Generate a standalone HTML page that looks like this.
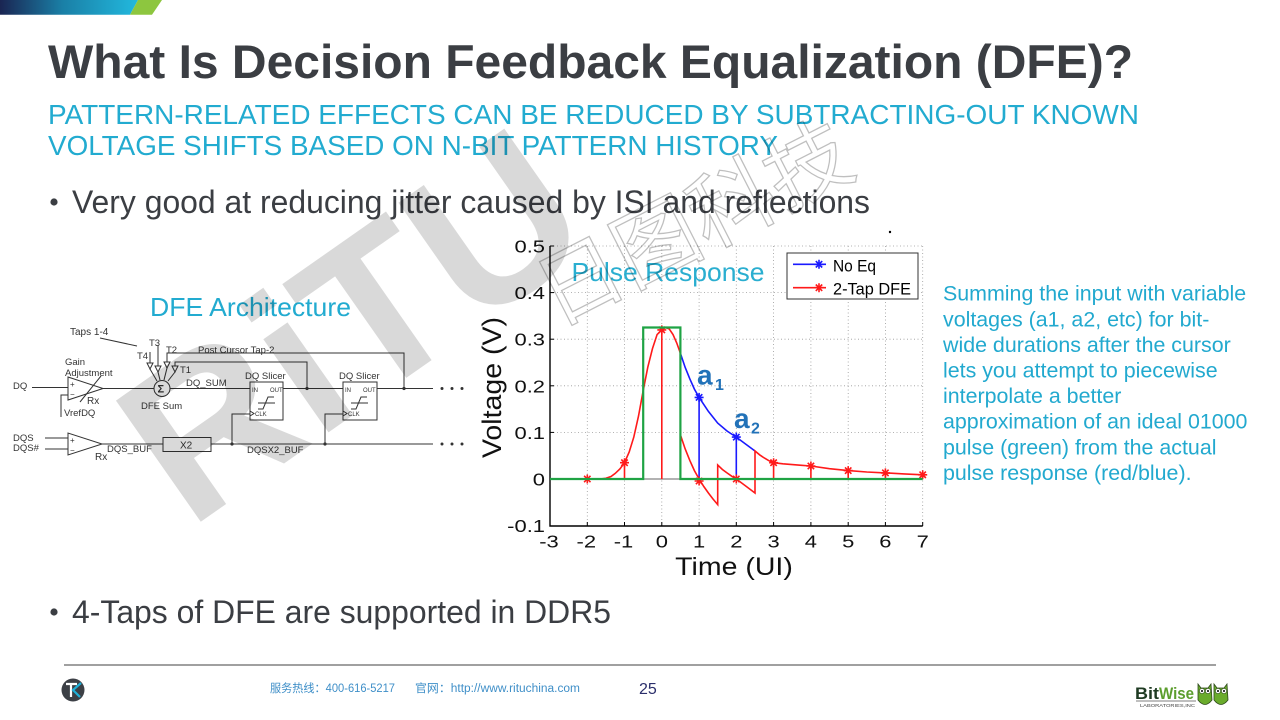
<!DOCTYPE html>
<html><head><meta charset="utf-8"><style>
html,body{margin:0;padding:0;background:#fff;}
svg{display:block;}
</style></head><body>
<svg width="1280" height="720" viewBox="0 0 1280 720" xmlns="http://www.w3.org/2000/svg" font-family="'Liberation Sans', Arial, sans-serif">
<defs>
<linearGradient id="bar" x1="0" y1="0" x2="1" y2="0">
<stop offset="0" stop-color="#1a2552"/>
<stop offset="0.45" stop-color="#1a7fa6"/>
<stop offset="1" stop-color="#22b9de"/>
</linearGradient>
</defs>
<rect width="1280" height="720" fill="#fff"/>
<!-- top banner -->
<polygon points="0,0 138,0 130,14.7 0,14.7" fill="url(#bar)"/>
<polygon points="138,0 162,0 152,14.7 130,14.7" fill="#8dc63f"/>

<!-- title -->
<text x="48" y="78" font-size="47" font-weight="bold" fill="#3b3e43" textLength="1085" lengthAdjust="spacingAndGlyphs">What Is Decision Feedback Equalization (DFE)?</text>
<text x="48" y="124" font-size="28" fill="#22abd0" textLength="1091" lengthAdjust="spacingAndGlyphs">PATTERN-RELATED EFFECTS CAN BE REDUCED BY SUBTRACTING-OUT KNOWN</text>
<text x="48" y="155" font-size="28" fill="#22abd0" textLength="730" lengthAdjust="spacingAndGlyphs">VOLTAGE SHIFTS BASED ON N-BIT PATTERN HISTORY</text>

<!-- bullets -->
<circle cx="54" cy="202" r="3.6" fill="#3b3e43"/>
<text x="72" y="213" font-size="32" fill="#3b3e43" textLength="798" lengthAdjust="spacingAndGlyphs">Very good at reducing jitter caused by ISI and reflections</text>
<circle cx="54" cy="612" r="3.6" fill="#3b3e43"/>
<text x="72" y="623" font-size="32" fill="#3b3e43" textLength="539" lengthAdjust="spacingAndGlyphs">4-Taps of DFE are supported in DDR5</text>

<!-- DFE Architecture -->
<text x="150" y="316" font-size="26" fill="#22abd0" textLength="201" lengthAdjust="spacingAndGlyphs">DFE Architecture</text>
<g stroke="#333" stroke-width="1" fill="none">
  <line x1="100" y1="338" x2="137" y2="346"/>
  <line x1="32" y1="387.5" x2="68" y2="387.5"/>
  <polygon points="68,377 68,400 103,388.5" fill="#fff"/>
  <line x1="80" y1="402" x2="101" y2="376"/>
  <polyline points="68,395 61,395 61,417"/>
  <line x1="103" y1="388.5" x2="154" y2="388.5"/>
  <circle cx="162" cy="388.5" r="8" fill="#fff"/>
  <line x1="170" y1="388.5" x2="250" y2="388.5"/>
  <!-- tap inputs -->
  <line x1="150" y1="352" x2="150" y2="363"/>
  <line x1="158" y1="345" x2="158" y2="366"/>
  <polyline points="167,362 167,353 404,353 404,388.5"/>
  <polyline points="175,366 175,362 307,362 307,388.5"/>
  <polygon points="147,363 153,363 150,369" fill="#fff"/>
  <polygon points="155,366 161,366 158,372" fill="#fff"/>
  <polygon points="164,362 170,362 167,368" fill="#fff"/>
  <polygon points="172,366 178,366 175,372" fill="#fff"/>
  <polyline points="150,369 157,381"/>
  <polyline points="158,372 160,380"/>
  <polyline points="167,368 164,380"/>
  <polyline points="175,372 168,381"/>
  <!-- slicer 1 -->
  <rect x="250" y="382" width="33" height="38" fill="#fff"/>
  <polyline points="258,409 263,409 268,397 274,397"/>
  <line x1="258" y1="403" x2="275" y2="403"/>
  <polyline points="250,411 254,413.5 250,416"/>
  <line x1="283" y1="388.5" x2="343" y2="388.5"/>
  <!-- slicer 2 -->
  <rect x="343" y="382" width="34" height="38" fill="#fff"/>
  <polyline points="351,409 356,409 361,397 367,397"/>
  <line x1="351" y1="403" x2="368" y2="403"/>
  <polyline points="343,411 347,413.5 343,416"/>
  <line x1="377" y1="388.5" x2="433" y2="388.5"/>
  <!-- DQS -->
  <line x1="45" y1="438" x2="68" y2="438"/>
  <line x1="45" y1="449" x2="68" y2="449"/>
  <polygon points="68,433 68,455 102,444" fill="#fff"/>
  <line x1="102" y1="444" x2="163" y2="444"/>
  <rect x="163" y="437.5" width="48" height="14" fill="#fff"/>
  <line x1="211" y1="444" x2="433" y2="444"/>
  <polyline points="232,444 232,414 250,414"/>
  <polyline points="325,444 325,414 343,414"/>
</g>
<g fill="#333">
  <circle cx="307" cy="388.5" r="1.6"/><circle cx="404" cy="388.5" r="1.6"/>
  <circle cx="232" cy="444" r="1.6"/><circle cx="325" cy="444" r="1.6"/>
  <circle cx="442" cy="388.5" r="1.5"/><circle cx="452" cy="388.5" r="1.5"/><circle cx="462" cy="388.5" r="1.5"/>
  <circle cx="442" cy="444" r="1.5"/><circle cx="452" cy="444" r="1.5"/><circle cx="462" cy="444" r="1.5"/>
</g>
<g font-size="9.5" fill="#333">
  <text x="70" y="335" font-size="10">Taps 1-4</text>
  <text x="149" y="346">T3</text>
  <text x="166" y="353">T2</text>
  <text x="137" y="359">T4</text>
  <text x="180" y="373">T1</text>
  <text x="198" y="353">Post Cursor Tap-2</text>
  <text x="65" y="365">Gain</text>
  <text x="65" y="376">Adjustment</text>
  <text x="13" y="389">DQ</text>
  <text x="70" y="387" font-size="8">+</text>
  <text x="70" y="397" font-size="8">−</text>
  <text x="87" y="404" font-size="10">Rx</text>
  <text x="64" y="416">VrefDQ</text>
  <text x="157.5" y="392.5" font-size="11" font-weight="bold">Σ</text>
  <text x="141" y="409">DFE Sum</text>
  <text x="186" y="386">DQ_SUM</text>
  <text x="245" y="379">DQ Slicer</text>
  <text x="339" y="379">DQ Slicer</text>
  <text x="252" y="392" font-size="6">IN</text>
  <text x="270" y="392" font-size="6">OUT</text>
  <text x="255" y="416" font-size="6">CLK</text>
  <text x="345" y="392" font-size="6">IN</text>
  <text x="363" y="392" font-size="6">OUT</text>
  <text x="348" y="416" font-size="6">CLK</text>
  <text x="13" y="441">DQS</text>
  <text x="13" y="451">DQS#</text>
  <text x="70" y="443" font-size="8">+</text>
  <text x="70" y="453" font-size="8">−</text>
  <text x="95" y="460" font-size="10">Rx</text>
  <text x="107" y="452">DQS_BUF</text>
  <text x="180" y="448.5" font-size="10">X2</text>
  <text x="247" y="453">DQSX2_BUF</text>
</g>

<!-- ===== Chart ===== -->
<!-- grid -->
<g stroke="#9a9a9a" stroke-width="0.8" stroke-dasharray="1,2.5" fill="none">
  <line x1="587.3" y1="246" x2="587.3" y2="526"/>
  <line x1="624.5" y1="246" x2="624.5" y2="526"/>
  <line x1="661.8" y1="246" x2="661.8" y2="526"/>
  <line x1="699.1" y1="246" x2="699.1" y2="526"/>
  <line x1="736.3" y1="246" x2="736.3" y2="526"/>
  <line x1="773.6" y1="246" x2="773.6" y2="526"/>
  <line x1="810.9" y1="246" x2="810.9" y2="526"/>
  <line x1="848.2" y1="246" x2="848.2" y2="526"/>
  <line x1="885.4" y1="246" x2="885.4" y2="526"/>
  <line x1="922.7" y1="246" x2="922.7" y2="526"/>
  <line x1="550" y1="246" x2="922.7" y2="246"/>
  <line x1="550" y1="292.6" x2="922.7" y2="292.6"/>
  <line x1="550" y1="339.2" x2="922.7" y2="339.2"/>
  <line x1="550" y1="385.8" x2="922.7" y2="385.8"/>
  <line x1="550" y1="432.4" x2="922.7" y2="432.4"/>
</g>
<!-- axes -->
<g stroke="#000" stroke-width="1.4" fill="none">
  <polyline points="550,246 550,526 922.7,526"/>
</g>
<g stroke="#000" stroke-width="1">
  <line x1="550" y1="292.6" x2="554" y2="292.6"/><line x1="550" y1="339.2" x2="554" y2="339.2"/>
  <line x1="550" y1="385.8" x2="554" y2="385.8"/><line x1="550" y1="432.4" x2="554" y2="432.4"/>
  <line x1="550" y1="479" x2="554" y2="479"/><line x1="550" y1="246" x2="554" y2="246"/>
  <line x1="587.3" y1="526" x2="587.3" y2="522"/><line x1="624.5" y1="526" x2="624.5" y2="522"/>
  <line x1="661.8" y1="526" x2="661.8" y2="522"/><line x1="699.1" y1="526" x2="699.1" y2="522"/>
  <line x1="736.3" y1="526" x2="736.3" y2="522"/><line x1="773.6" y1="526" x2="773.6" y2="522"/>
  <line x1="810.9" y1="526" x2="810.9" y2="522"/><line x1="848.2" y1="526" x2="848.2" y2="522"/>
  <line x1="885.4" y1="526" x2="885.4" y2="522"/><line x1="922.7" y1="526" x2="922.7" y2="522"/>
</g>
<!-- y tick labels -->
<g font-size="18" fill="#111" text-anchor="end">
  <text transform="translate(545,252.5) scale(1.22,1)">0.5</text>
  <text transform="translate(545,299.1) scale(1.22,1)">0.4</text>
  <text transform="translate(545,345.7) scale(1.22,1)">0.3</text>
  <text transform="translate(545,392.3) scale(1.22,1)">0.2</text>
  <text transform="translate(545,438.9) scale(1.22,1)">0.1</text>
  <text transform="translate(545,485.5) scale(1.22,1)">0</text>
  <text transform="translate(545,532) scale(1.22,1)">-0.1</text>
</g>
<!-- x tick labels -->
<g font-size="18" fill="#111" text-anchor="middle">
  <text transform="translate(549,547.5) scale(1.22,1)">-3</text>
  <text transform="translate(586.3,547.5) scale(1.22,1)">-2</text>
  <text transform="translate(623.5,547.5) scale(1.22,1)">-1</text>
  <text transform="translate(661.8,547.5) scale(1.22,1)">0</text>
  <text transform="translate(699.1,547.5) scale(1.22,1)">1</text>
  <text transform="translate(736.3,547.5) scale(1.22,1)">2</text>
  <text transform="translate(773.6,547.5) scale(1.22,1)">3</text>
  <text transform="translate(810.9,547.5) scale(1.22,1)">4</text>
  <text transform="translate(848.2,547.5) scale(1.22,1)">5</text>
  <text transform="translate(885.4,547.5) scale(1.22,1)">6</text>
  <text transform="translate(922.7,547.5) scale(1.22,1)">7</text>
</g>
<!-- axis labels -->
<text transform="translate(734,575) scale(1.14,1)" font-size="25" fill="#111" text-anchor="middle">Time (UI)</text>
<text transform="translate(501,387.5) rotate(-90)" font-size="27" fill="#111" text-anchor="middle" textLength="141" lengthAdjust="spacingAndGlyphs">Voltage (V)</text>

<!-- grey baseline inside pulse -->
<line x1="643.2" y1="479" x2="680.4" y2="479" stroke="#999" stroke-width="1.5"/>

<!-- blue (No Eq) -->
<g stroke="#1a1aff" stroke-width="1.6" fill="none">
  <polyline points="680.4,353.2 685.1,367.2 689.8,378.8 694.4,389.1 699.1,397.4 708.4,411.4 717.7,423.1 727.0,431.0 736.3,437.1 745.7,444.1 755.0,451.0"/>
  <line x1="699.1" y1="479" x2="699.1" y2="397.4"/>
  <line x1="736.3" y1="479" x2="736.3" y2="437.1"/>
  <path d="M694.6,397.4h9M699.1,392.9v9M695.9,394.2l6.4,6.4M695.9,400.6l6.4,-6.4"/>
  <path d="M731.8,437.1h9M736.3,432.6v9M733.1,433.9l6.4,6.4M733.1,440.3l6.4,-6.4"/>
</g>
<!-- red (2-Tap DFE) -->
<g stroke="#ff1a1a" stroke-width="1.6" fill="none">
  <polyline points="583,479 600,479 605.9,478.3 611,476.5 615.2,473.4 620,468.8 624.5,462.7 629.2,452.0 633.8,437.1 638.5,416.1 643.2,390.5 647.8,367.2 652.5,348.5 657.1,334.5 661.8,329.9 665.5,327.5 669.3,329.0 673.0,334.5 676.7,342.9 680.4,353.2 680.4,434.7 685.1,448.7 689.8,460.4 694.4,470.6 699.1,479 703.8,486.5 708.4,493.0 713.0,499.0 717.7,504.6 717.7,465.0 722.4,469.5 727.0,472.9 731.7,476.2 736.3,479 745.7,486.0 755.0,493.0 755.0,451.0 759.6,454.8 764.3,458.0 768.9,460.7 773.6,462.7 782.9,463.8 792.2,464.6 801.5,465.3 810.9,466.0 829.5,468.7 848.2,470.6 866.8,472.0 885.4,472.9 904.1,473.9 922.7,474.8"/>
  <line x1="624.5" y1="479" x2="624.5" y2="462.7"/>
  <line x1="661.8" y1="479" x2="661.8" y2="329.9"/>
  <line x1="773.6" y1="479" x2="773.6" y2="462.7"/>
  <line x1="810.9" y1="479" x2="810.9" y2="466.0"/>
  <line x1="848.2" y1="479" x2="848.2" y2="470.6"/>
  <line x1="885.4" y1="479" x2="885.4" y2="472.9"/>
  <line x1="922.7" y1="479" x2="922.7" y2="474.8"/>
  <path d="M582.8,479h9M587.3,474.5v9M584.1,475.8l6.4,6.4M584.1,482.2l6.4,-6.4"/>
  <path d="M620,462.7h9M624.5,458.2v9M621.3,459.5l6.4,6.4M621.3,465.9l6.4,-6.4"/>
  <path d="M657.3,329.9h9M661.8,325.4v9M658.6,326.7l6.4,6.4M658.6,333.1l6.4,-6.4"/>
  <path d="M694.6,481h9M699.1,476.5v9M695.9,477.8l6.4,6.4M695.9,484.2l6.4,-6.4"/>
  <path d="M731.8,479h9M736.3,474.5v9M733.1,475.8l6.4,6.4M733.1,482.2l6.4,-6.4"/>
  <path d="M769.1,462.7h9M773.6,458.2v9M770.4,459.5l6.4,6.4M770.4,465.9l6.4,-6.4"/>
  <path d="M806.4,466h9M810.9,461.5v9M807.7,462.8l6.4,6.4M807.7,469.2l6.4,-6.4"/>
  <path d="M843.7,470.6h9M848.2,466.1v9M845,467.4l6.4,6.4M845,473.8l6.4,-6.4"/>
  <path d="M880.9,472.9h9M885.4,468.4v9M882.2,469.7l6.4,6.4M882.2,476.1l6.4,-6.4"/>
  <path d="M918.2,474.8h9M922.7,470.3v9M919.5,471.6l6.4,6.4M919.5,478l6.4,-6.4"/>
</g>
<!-- green ideal pulse -->
<path d="M550,479 H643.2 V327.5 H680.4 V479 H922.7" stroke="#1fa344" stroke-width="2.2" fill="none"/>

<!-- a1 a2 labels -->
<text x="697" y="384.5" font-size="28" font-weight="bold" fill="#2272b8">a</text>
<text x="715" y="390" font-size="16" font-weight="bold" fill="#2272b8">1</text>
<text x="734" y="428" font-size="28" font-weight="bold" fill="#2272b8">a</text>
<text x="751" y="433.5" font-size="16" font-weight="bold" fill="#2272b8">2</text>

<!-- Pulse Response -->
<text x="571.5" y="281" font-size="26" fill="#2aaed0" textLength="193" lengthAdjust="spacingAndGlyphs">Pulse Response</text>

<!-- legend -->
<rect x="787" y="253" width="131" height="46" fill="#fff" stroke="#333" stroke-width="1"/>
<g stroke-width="1.6" fill="none">
  <line x1="793" y1="264.3" x2="826" y2="264.3" stroke="#1a1aff"/>
  <path d="M814.5,264.3h9M819,259.8v9M815.8,261.1l6.4,6.4M815.8,267.5l6.4,-6.4" stroke="#1a1aff"/>
  <line x1="793" y1="287.7" x2="826" y2="287.7" stroke="#ff1a1a"/>
  <path d="M814.5,287.7h9M819,283.2v9M815.8,284.5l6.4,6.4M815.8,290.9l6.4,-6.4" stroke="#ff1a1a"/>
</g>
<text x="833" y="271.5" font-size="17" fill="#000" textLength="43" lengthAdjust="spacingAndGlyphs">No Eq</text>
<text x="833" y="294.5" font-size="17" fill="#000" textLength="78" lengthAdjust="spacingAndGlyphs">2-Tap DFE</text>
<circle cx="890" cy="232" r="1.2" fill="#000"/>

<!-- right text -->
<g font-size="21.4" fill="#22a9cf">
  <text x="943" y="300.7">Summing the input with variable</text>
  <text x="943" y="326.3">voltages (a1, a2, etc) for bit-</text>
  <text x="943" y="351.9">wide durations after the cursor</text>
  <text x="943" y="377.5">lets you attempt to piecewise</text>
  <text x="943" y="403.1">interpolate a better</text>
  <text x="943" y="428.7">approximation of an ideal 01000</text>
  <text x="943" y="454.3">pulse (green) from the actual</text>
  <text x="943" y="479.9">pulse response (red/blue).</text>
</g>

<!-- footer -->
<line x1="64" y1="665" x2="1216" y2="665" stroke="#808080" stroke-width="1.5"/>
<circle cx="73" cy="690" r="11.5" fill="#3c4046"/>
<path d="M66,684 H77 M71,684 V697" stroke="#fff" stroke-width="2.2" fill="none"/>
<path d="M81,683 L73,690 L80,697" stroke="#1fb0d8" stroke-width="2.2" fill="none"/>
<text x="270" y="692" font-size="11.5" fill="#3f8fc8" font-family="'Liberation Sans', 'Noto Sans CJK SC', sans-serif" textLength="125" lengthAdjust="spacingAndGlyphs">服务热线：400-616-5217</text>
<text x="415" y="692" font-size="11.5" fill="#3f8fc8" font-family="'Liberation Sans', 'Noto Sans CJK SC', sans-serif" textLength="165" lengthAdjust="spacingAndGlyphs">官网：http://www.rituchina.com</text>
<text x="639" y="694" font-size="16" fill="#2b2f6b">25</text>

<!-- BitWise logo -->
<text x="1135" y="699" font-size="17" font-weight="bold" fill="#1f3b23" textLength="24" lengthAdjust="spacingAndGlyphs">Bit</text>
<text x="1159" y="699" font-size="17" font-weight="bold" fill="#5c9e2e" textLength="35" lengthAdjust="spacingAndGlyphs">Wise</text>
<line x1="1136" y1="701" x2="1196" y2="701" stroke="#555" stroke-width="0.8"/>
<text x="1140" y="707" font-size="4.5" fill="#444" textLength="55" lengthAdjust="spacingAndGlyphs">LABORATORIES,INC</text>
<g>
  <path d="M1198,684 L1201,688 L1208,688 L1211,684 L1212,700 Q1205,709 1198,700 Z" fill="#6aab2c" stroke="#2d4a1a" stroke-width="0.8"/>
  <circle cx="1202" cy="691" r="2.6" fill="#fff" stroke="#2d4a1a" stroke-width="0.6"/>
  <circle cx="1208" cy="691" r="2.6" fill="#fff" stroke="#2d4a1a" stroke-width="0.6"/>
  <circle cx="1202" cy="691" r="1" fill="#000"/><circle cx="1208" cy="691" r="1" fill="#000"/>
  <path d="M1214,684 L1217,688 L1224,688 L1227,684 L1228,700 Q1221,709 1214,700 Z" fill="#6aab2c" stroke="#2d4a1a" stroke-width="0.8"/>
  <circle cx="1218" cy="691" r="2.6" fill="#fff" stroke="#2d4a1a" stroke-width="0.6"/>
  <circle cx="1224" cy="691" r="2.6" fill="#fff" stroke="#2d4a1a" stroke-width="0.6"/>
  <circle cx="1218" cy="691" r="1" fill="#000"/><circle cx="1224" cy="691" r="1" fill="#000"/>
</g>

<!-- watermarks -->
<text transform="translate(189,530) rotate(-35)" font-size="215" font-weight="bold" fill="#000" fill-opacity="0.15">RiTU</text>
<text transform="translate(556,327) rotate(-27)" font-size="85" font-family="'Liberation Sans', 'Noto Sans CJK SC', sans-serif" fill="none" stroke="#000" stroke-opacity="0.25" stroke-width="1.3">日图科技</text>
</svg>
</body></html>
